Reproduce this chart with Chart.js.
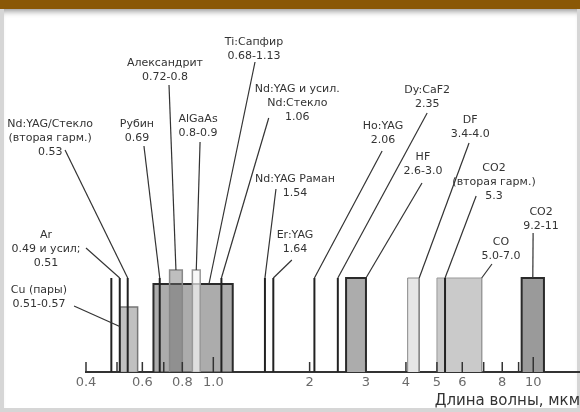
<!DOCTYPE html>
<html lang="ru">
<head>
<meta charset="utf-8">
<title>Лазеры: длины волн</title>
<script src="https://cdn.jsdelivr.net/npm/chart.js@4.4.1/dist/chart.umd.min.js"></script>
<style>
  body { margin: 0; background: #fff; }
  #frame { position: absolute; left: 0; top: 0; width: 580px; height: 412px; background: #d6d6d6; overflow: hidden; }
  #panel { position: absolute; left: 4px; top: 9px; width: 573px; height: 399px; background: #fff;
           box-shadow: inset 0 7px 6px -5px rgba(0,0,0,0.45); }
  #bar { position: absolute; left: 0; top: 0; width: 580px; height: 9px; background: #8a5806; }
  canvas { position: absolute; left: 0; top: 0; }
</style>
</head>
<body>
<div id="frame">
  <div id="panel"></div>
  <div id="bar"></div>
  <canvas id="laserChart" width="580" height="412"></canvas>
</div>
<script>
// одиночные линии генерации, мкм
const lineLasers = ["Ar", "Ar усил.", "Nd 2-я гарм.", "Рубин", "Nd:YAG", "Nd:YAG Раман", "Er:YAG", "Ho:YAG", "Dy:CaF2", "CO2 2-я гарм."];
const lineWl = [0.48, 0.51, 0.54, 0.68, 1.06, 1.45, 1.54, 2.07, 2.45, 5.3];

// диапазоны перестройки, мкм
const bandLasers = ["Cu", "Ti:Сапфир", "Александрит", "AlGaAs", "HF", "DF", "CO", "CO2"];
const bandFrom = [0.51, 0.65, 0.73, 0.86, 2.6, 4.05, 5.0, 9.2];
const bandTo = [0.58, 1.15, 0.8, 0.91, 3.0, 4.4, 6.9, 10.8];

// ось
const tickValues = [0.4, 0.6, 0.8, 1, 2, 3, 4, 5, 6, 8, 10];
const tickLabels = ["0.4", "0.6", "0.8", "1.0", "2", "3", "4", "5", "6", "8", "10"];
const tickMarks = [0.4, 0.5, 0.6, 0.7, 0.8, 1, 2, 3, 4, 5, 6, 7, 8, 9, 10];

// оформление
const LINE_H = 94;
const bandStyle = {
  "Cu":          { h: 65,  fill: "rgba(185,185,185,0.9)", border: "#777", w: 1.5, order: 9 },
  "Ti:Сапфир":   { h: 88,  fill: "rgba(140,140,140,0.72)", border: "#2a2a2a", w: 2, order: 10 },
  "Александрит": { h: 102, fill: "rgba(110,110,110,0.45)", border: "#888", w: 1.5, order: 8 },
  "AlGaAs":      { h: 102, fill: "rgba(245,245,245,0.7)", border: "#999", w: 1.5, order: 7 },
  "HF":          { h: 94,  fill: "#acacac", border: "#2a2a2a", w: 2, order: 6 },
  "DF":          { h: 94,  fill: "#e6e6e6", border: "#888", w: 1, order: 6 },
  "CO":          { h: 94,  fill: "#cacaca", border: "#999", w: 1, order: 6 },
  "CO2":         { h: 94,  fill: "#9a9a9a", border: "#2a2a2a", w: 2, order: 6 }
};

// подписи: x в мкм, y в единицах оси y; from - начало выноски, to - куда она идёт
const callouts = [
  { text: ["Nd:YAG/Стекло", "(вторая гарм.)", "0.53"], x: 0.309, y: 248, from: [0.344, 222], to: { line: 2 } },
  { text: ["Ar", "0.49 и усил;", "0.51"], x: 0.300, y: 137, from: [0.400, 124], to: { line: 1 } },
  { text: ["Cu (пары)", "0.51-0.57"], x: 0.285, y: 82, from: [0.367, 66], to: { band: 0, side: 0.7 } },
  { text: ["Рубин", "0.69"], x: 0.577, y: 248, from: [0.607, 226], to: { line: 3 } },
  { text: ["Александрит", "0.72-0.8"], x: 0.706, y: 309, from: [0.727, 287], to: { band: 2, at: 0.5 } },
  { text: ["AlGaAs", "0.8-0.9"], x: 0.896, y: 253, from: [0.909, 230], to: { band: 3, at: 0.5 } },
  { text: ["Ti:Сапфир", "0.68-1.13"], x: 1.34, y: 330, from: [1.35, 310], to: { band: 1, at: 0.7 } },
  { text: ["Nd:YAG и усил.", "Nd:Стекло", "1.06"], x: 1.83, y: 283, from: [1.49, 254], to: { line: 4 } },
  { text: ["Nd:YAG Раман", "1.54"], x: 1.80, y: 193, from: [1.57, 183], to: { line: 5 } },
  { text: ["Er:YAG", "1.64"], x: 1.80, y: 137, from: [1.76, 112], to: { line: 6 } },
  { text: ["Ho:YAG", "2.06"], x: 3.39, y: 246, from: [3.37, 221], to: { line: 7 } },
  { text: ["Dy:CaF2", "2.35"], x: 4.66, y: 282, from: [4.66, 259], to: { line: 8 } },
  { text: ["HF", "2.6-3.0"], x: 4.52, y: 215, from: [4.49, 189], to: { band: 4, at: 1 } },
  { text: ["DF", "3.4-4.0"], x: 6.35, y: 252, from: [6.30, 229], to: { band: 5, at: 1 } },
  { text: ["CO2", "(вторая гарм.)", "5.3"], x: 7.54, y: 204, from: [6.63, 176], to: { line: 9 } },
  { text: ["CO", "5.0-7.0"], x: 7.93, y: 130, from: [7.43, 108], to: { band: 6, at: 1 } },
  { text: ["CO2", "9.2-11"], x: 10.58, y: 160, from: [9.99, 139], to: { band: 7, at: 0.5 } }
];

const calloutEnd = (to) => {
  if (to.line !== undefined) return [lineWl[to.line], LINE_H];
  const a = bandFrom[to.band], b = bandTo[to.band];
  const h = bandStyle[bandLasers[to.band]].h;
  if (to.side !== undefined) return [a, h * to.side];
  return [Math.pow(10, Math.log10(a) + to.at * (Math.log10(b) - Math.log10(a))), h];
};

const datasets = [];
bandLasers.forEach((name, i) => {
  const s = bandStyle[name];
  datasets.push({
    label: name,
    data: [
      { x: bandFrom[i], y: 0 }, { x: bandFrom[i], y: s.h },
      { x: bandTo[i], y: s.h }, { x: bandTo[i], y: 0 }
    ],
    borderColor: s.border,
    borderWidth: s.w,
    backgroundColor: s.fill,
    fill: "origin",
    pointRadius: 0,
    tension: 0,
    order: s.order
  });
});
lineLasers.forEach((name, i) => {
  datasets.push({
    label: name,
    data: [{ x: lineWl[i], y: 0 }, { x: lineWl[i], y: LINE_H }],
    borderColor: "#222",
    borderWidth: 2,
    pointRadius: 0,
    fill: false,
    order: 1
  });
});

// короткие риски вверх от оси
const axisMarks = {
  id: "axisMarks",
  afterDatasetsDraw(chart) {
    const { ctx, chartArea, scales: { x } } = chart;
    ctx.save();
    ctx.strokeStyle = "#333";
    ctx.lineWidth = 1.5;
    tickMarks.forEach(v => {
      const px = x.getPixelForValue(v);
      const len = (v === 1 || v === 10) ? 15 : 10;
      ctx.beginPath();
      ctx.moveTo(px, chartArea.bottom);
      ctx.lineTo(px, chartArea.bottom - len);
      ctx.stroke();
    });
    ctx.restore();
  }
};

// подписи лазеров и выноски
const laserLabels = {
  id: "laserLabels",
  afterDatasetsDraw(chart) {
    const { ctx, scales: { x, y } } = chart;
    ctx.save();
    ctx.font = '11px "DejaVu Sans"';
    ctx.fillStyle = "#333";
    ctx.textAlign = "center";
    ctx.textBaseline = "middle";
    ctx.strokeStyle = "#333";
    ctx.lineWidth = 1.2;
    callouts.forEach(c => {
      const tx = x.getPixelForValue(c.x);
      const ty = y.getPixelForValue(c.y);
      c.text.forEach((t, k) => ctx.fillText(t, tx, ty + k * 14));
      const [ex, ey] = calloutEnd(c.to);
      ctx.beginPath();
      ctx.moveTo(x.getPixelForValue(c.from[0]), y.getPixelForValue(c.from[1]));
      ctx.lineTo(x.getPixelForValue(ex), y.getPixelForValue(ey));
      ctx.stroke();
    });
    ctx.restore();
  }
};

const ctx = document.getElementById("laserChart").getContext("2d");

new Chart(ctx, {
  type: "line",
  data: { datasets: datasets },
  options: {
    responsive: false,
    animation: false,
    layout: { padding: { left: 86, right: 0, top: 12, bottom: 0 } },
    plugins: { legend: { display: false }, tooltip: { enabled: false } },
    scales: {
      x: {
        type: "logarithmic",
        min: 0.4,
        max: 14,
        bounds: "data",
        afterBuildTicks: s => { s.ticks = tickValues.map(v => ({ value: v })); },
        afterFit: s => { s.height = 40; },
        ticks: {
          autoSkip: false,
          maxRotation: 0,
          padding: 3,
          color: "#6a6a6a",
          font: { family: "DejaVu Sans", size: 13 },
          callback: (v, i) => tickLabels[i]
        },
        grid: { display: false, drawTicks: false },
        border: { display: true, color: "#333", width: 2 },
        title: {
          display: true,
          text: "Длина волны, мкм",
          align: "end",
          color: "#333",
          font: { family: "DejaVu Sans", size: 15 },
          padding: { top: 0, bottom: 2 }
        }
      },
      y: { display: false, min: 0, max: 360 }
    }
  },
  plugins: [axisMarks, laserLabels]
});
</script>
</body>
</html>
